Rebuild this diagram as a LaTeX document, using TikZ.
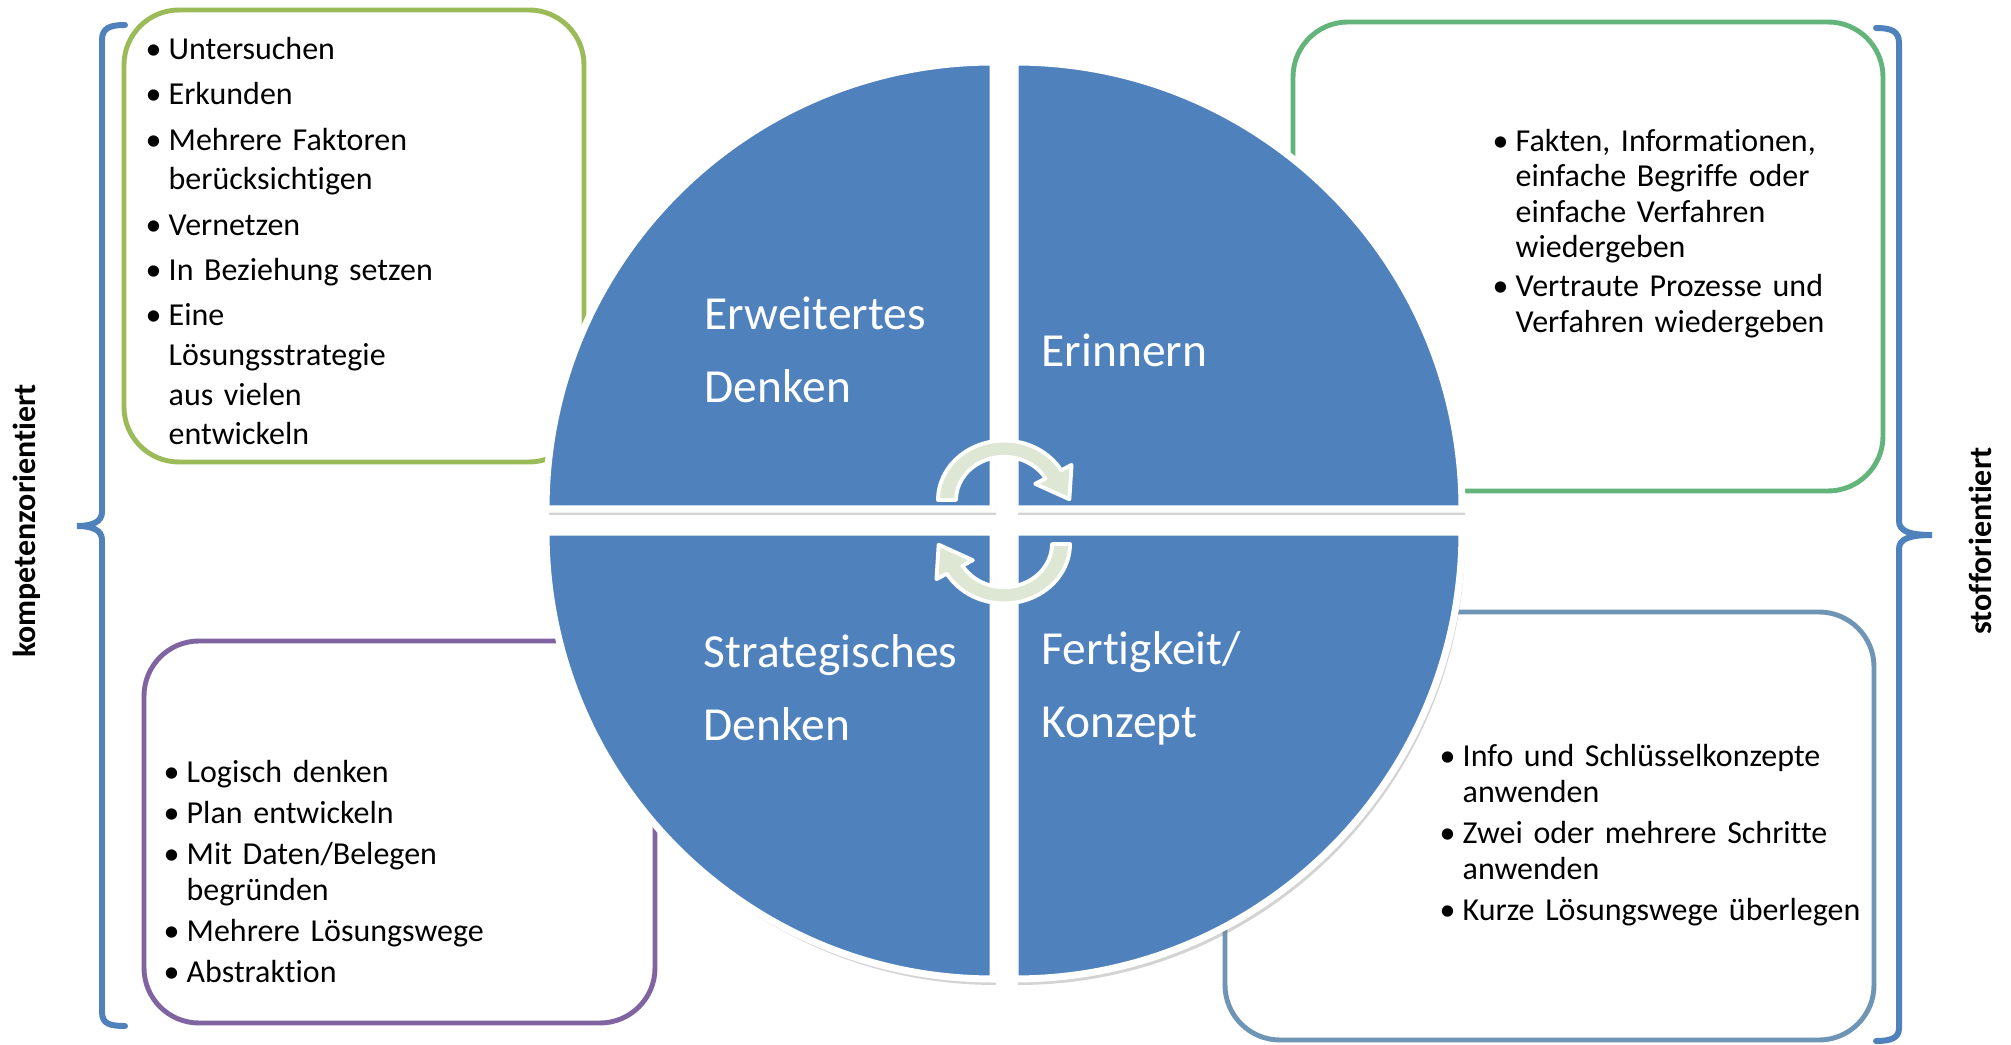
\documentclass[tikz,border=0pt]{standalone}
\usepackage{fontspec}
\setmainfont{Carlito}[Ligatures=NoCommon]
\usepackage{enumitem}
\usetikzlibrary{shadows}

\definecolor{quadblau}{RGB}{79,129,189}
\definecolor{pfeilgruen}{RGB}{221,231,212}
\definecolor{olivgruen}{RGB}{155,187,89}
\definecolor{mintgruen}{RGB}{98,180,122}
\definecolor{lila}{RGB}{128,100,162}
\definecolor{graublau}{RGB}{110,148,182}

\setlist[itemize]{label=\textbullet, leftmargin=2.3mm, labelwidth=2.3mm, labelsep=0pt, align=left, topsep=0pt, partopsep=0pt, parsep=0pt, itemsep=1.4pt}

\begin{document}
\begin{tikzpicture}[x=0.1mm, y=0.1mm]
	\tikzset{viertel/.style={fill=quadblau, draw=white, line width=2pt, drop shadow={shadow xshift=0.3mm, shadow yshift=-0.6mm, opacity=0.35}},
		kasten/.style={line width=1.4pt, rounded corners=5.5mm},
		liste/.style={anchor=north west, inner sep=0pt, text width=6cm, font=\fontsize{9.1}{10.24}\selectfont},
		titel/.style={anchor=west, align=left, inner sep=0pt, text=white, font=\fontsize{13.5}{20.8}\selectfont},
		seite/.style={rotate=90, inner sep=0pt, font=\fontsize{9.1}{10}\selectfont\bfseries},
		klammer/.style={draw=quadblau, line width=1.7pt, line cap=round},
		pfeil/.style={fill=pfeilgruen, draw=white, line width=1.1pt, line join=round},
		kreispfeil/.pic={\path[pfeil] (180:66) arc (180:30:66) -- (30:78) -- ([shift={(-60:32)}]30:57) -- (30:36) -- (30:48) arc (30:180:48) -- cycle;}};

	\useasboundingbox (0,0) rectangle (2011,-1045);

	% Klammern links und rechts
	\draw[klammer] (125,-25) .. controls (110,-25) and (102,-28) .. (102,-40) -- (102,-512)
		.. controls (102,-522) and (92,-526) .. (77,-526)
		.. controls (92,-526) and (102,-530) .. (102,-540) -- (102,-1012)
		.. controls (102,-1024) and (110,-1026) .. (125,-1026);
	\draw[klammer] (1876,-28) .. controls (1891,-28) and (1899,-31) .. (1899,-43) -- (1899,-521)
		.. controls (1899,-531) and (1909,-535) .. (1932,-535)
		.. controls (1909,-535) and (1899,-539) .. (1899,-549) -- (1899,-1028)
		.. controls (1899,-1038) and (1891,-1041) .. (1876,-1041);

	\node[seite] (kompetenz) at (27,-521) {kompetenzorientiert};
	\node[seite] (stoff) at (1980,-541) {stofforientiert};

	% Kaesten
	\draw[kasten, draw=olivgruen] (124,-10) rectangle (584,-462);
	\draw[kasten, draw=mintgruen] (1293,-22) rectangle (1883,-491);
	\draw[kasten, draw=lila] (144,-641) rectangle (655,-1023);
	\draw[kasten, draw=graublau] (1225,-612) rectangle (1874,-1040);

	\node[liste, font=\fontsize{9.1}{11.3}\selectfont] (erw-liste) at (145,-19) {\begin{itemize}[itemsep=1.6pt]
		\item Untersuchen
		\item Erkunden
		\item Mehrere Faktoren\\ berücksichtigen
		\item Vernetzen
		\item In Beziehung setzen
		\item Eine\\ Lösungsstrategie\\ aus vielen\\ entwickeln
	\end{itemize}};
	\node[liste, font=\fontsize{9.1}{10.1}\selectfont] (eri-liste) at (1492,-115) {\begin{itemize}[itemsep=1pt]
		\item Fakten, Informationen,\\ einfache Begriffe oder\\ einfache Verfahren\\ wiedergeben
		\item Vertraute Prozesse und\\ Verfahren wiedergeben
	\end{itemize}};
	\node[liste] (str-liste) at (163,-746) {\begin{itemize}
		\item Logisch denken
		\item Plan entwickeln
		\item Mit Daten/Belegen\\ begründen
		\item Mehrere Lösungswege
		\item Abstraktion
	\end{itemize}};
	\node[liste] (fer-liste) at (1439,-730) {\begin{itemize}
		\item Info und Schlüsselkonzepte\\ anwenden
		\item Zwei oder mehrere Schritte\\ anwenden
		\item Kurze Lösungswege überlegen
	\end{itemize}};

	% Kreis aus vier Vierteln
	\coordinate (m1) at (993,-509);
	\coordinate (m2) at (1015,-509);
	\coordinate (m3) at (993,-532);
	\coordinate (m4) at (1015,-532);
	\path[viertel] (m1) -- ++(-447,0) arc (180:90:447) -- cycle;
	\path[viertel] (m2) -- ++(0,447) arc (90:0:447) -- cycle;
	\path[viertel] (m3) -- ++(0,-447) arc (270:180:447) -- cycle;
	\path[viertel] (m4) -- ++(447,0) arc (0:-90:447) -- cycle;

	\node[titel] (erw) at (704,-350) {Erweitertes\\Denken};
	\node[titel] (eri) at (1041,-350) {Erinnern};
	\node[titel] (str) at (703,-688) {Strategisches\\Denken};
	\node[titel] (fer) at (1041,-688) {Fertigkeit/\\Konzept};

	% Kreislauf-Pfeile
	\pic[yscale=0.9] at (1004,-500) {kreispfeil};
	\pic[rotate=180, yscale=0.9] at (1004,-544) {kreispfeil};
\end{tikzpicture}
\end{document}
